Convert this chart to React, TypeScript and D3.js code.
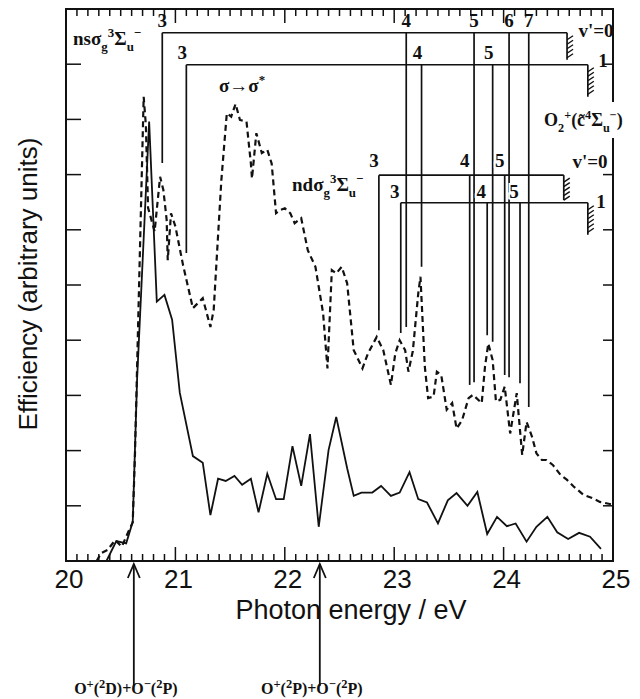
import React, { useEffect, useRef } from "react";
import * as d3 from "d3";

// solid curve: photon energy (eV) / efficiency (arb. units)
const solidE = [20.37, 20.46, 20.55, 20.61, 20.65, 20.76, 20.83, 20.90, 20.97, 21.04, 21.16, 21.25, 21.32, 21.39, 21.46, 21.54, 21.61, 21.69, 21.76, 21.84, 21.92, 21.99, 22.07, 22.15, 22.23, 22.31, 22.40, 22.47, 22.57, 22.63, 22.70, 22.80, 22.88, 22.97, 23.05, 23.14, 23.22, 23.30, 23.40, 23.49, 23.57, 23.67, 23.76, 23.85, 23.94, 24.03, 24.11, 24.21, 24.30, 24.40, 24.49, 24.59, 24.69, 24.79, 24.89];
const solidV = [0.0, 0.36, 0.32, 0.71, 3.3, 7.96, 4.70, 4.82, 4.37, 3.05, 1.90, 1.78, 0.83, 1.49, 1.45, 1.54, 1.38, 1.49, 0.88, 1.58, 1.12, 1.12, 2.08, 1.36, 2.30, 0.62, 2.01, 2.61, 1.68, 1.18, 1.24, 1.24, 1.36, 1.18, 1.24, 1.61, 1.12, 1.06, 0.68, 1.10, 1.23, 1.00, 1.25, 0.49, 0.80, 0.63, 0.68, 0.35, 0.62, 0.80, 0.52, 0.40, 0.51, 0.44, 0.22];

// dashed curve
const dashE = [20.28, 20.32, 20.38, 20.45, 20.51, 20.57, 20.61, 20.63, 20.71, 20.73, 20.75, 20.81, 20.86, 20.89, 20.92, 20.93, 20.96, 21.00, 21.07, 21.16, 21.25, 21.32, 21.35, 21.42, 21.47, 21.51, 21.55, 21.59, 21.65, 21.69, 21.70, 21.74, 21.79, 21.84, 21.88, 21.92, 21.96, 22.00, 22.05, 22.09, 22.15, 22.21, 22.28, 22.35, 22.39, 22.43, 22.47, 22.52, 22.57, 22.63, 22.71, 22.76, 22.84, 22.90, 22.97, 23.01, 23.05, 23.10, 23.13, 23.17, 23.22, 23.24, 23.28, 23.31, 23.36, 23.39, 23.43, 23.48, 23.53, 23.57, 23.62, 23.68, 23.72, 23.80, 23.83, 23.86, 23.90, 23.93, 23.97, 24.01, 24.06, 24.12, 24.17, 24.21, 24.26, 24.30, 24.35, 24.39, 24.45, 24.52, 24.58, 24.64, 24.73, 24.81, 24.88, 25.0];
const dashV = [0.0, 0.14, 0.2, 0.38, 0.26, 0.53, 0.7, 1.9, 8.41, 7.9, 6.4, 5.97, 6.96, 6.72, 6.18, 5.45, 6.3, 6.06, 5.36, 4.58, 4.76, 4.24, 4.55, 6.9, 8.11, 8.05, 8.28, 7.99, 7.96, 7.2, 6.93, 7.75, 7.39, 7.45, 7.2, 6.3, 6.36, 6.39, 6.3, 6.12, 6.21, 5.63, 5.33, 4.49, 3.49, 5.27, 5.21, 5.33, 5.03, 3.82, 3.49, 3.76, 4.06, 3.82, 3.19, 3.76, 4.0, 3.82, 3.43, 3.8, 4.85, 5.15, 3.52, 2.95, 2.98, 3.43, 3.37, 2.74, 2.86, 2.40, 2.55, 2.95, 3.01, 2.86, 3.52, 3.94, 3.64, 2.89, 2.92, 3.16, 2.31, 3.04, 1.92, 2.52, 2.25, 1.95, 1.83, 1.83, 1.74, 1.56, 1.47, 1.35, 1.20, 1.14, 1.07, 1.02];

// Rydberg series: level energies (eV), where each line stops (arb. units), n labels
const nsV0Energy = [20.88, 23.11, 23.73, 24.05, 24.23];
const nsV0Bottom = [7.21, 4.24, 3.24, 3.33, 2.79];
const nsV0Labels = ["3", "4", "5", "6", "7"];
const nsV1Energy = [21.10, 23.25, 23.90];
const nsV1Bottom = [5.58, 5.33, 3.97];
const nsV1Labels = ["3", "4", "5"];
const ndV0Energy = [22.86, 23.69, 24.01];
const ndV0Bottom = [4.18, 3.19, 3.37];
const ndV0Labels = ["3", "4", "5"];
const ndV1Energy = [23.06, 23.85, 24.15];
const ndV1Bottom = [4.13, 4.09, 3.22];
const ndV1Labels = ["3", "4", "5"];

// height of each series bar and its series limit
const seriesHeight = [9.57, 8.99, 6.99, 6.49];
const seriesLimit = [24.58, 24.77, 24.55, 24.77];

// dissociation thresholds
const thresholdE = [20.62, 22.32];
const thresholdLabels = [
    [["O", "n"], ["+", "sup"], ["(", "n"], ["2", "sup"], ["D)+O", "n"], ["\u2212", "sup"], ["(", "n"], ["2", "sup"], ["P)", "n"]],
    [["O", "n"], ["+", "sup"], ["(", "n"], ["2", "sup"], ["P)+O", "n"], ["\u2212", "sup"], ["(", "n"], ["2", "sup"], ["P)", "n"]],
];

const SERIF = "'Liberation Serif', 'Times New Roman', serif";
const SANS = "'Liberation Sans', Arial, Helvetica, sans-serif";

// text with sub/superscripts
function richText(g, x, y, segs, size, anchor = "start", ratio = 0.68) {
    const t = g.append("text")
        .attr("x", x).attr("y", y)
        .attr("text-anchor", anchor)
        .attr("font-family", SERIF)
        .attr("font-weight", "bold")
        .attr("font-size", size)
        .attr("fill", "#111");
    let shift = 0;
    segs.forEach(([s, k]) => {
        const target = k === "sub" ? size * 0.32 : k === "sup" ? -size * 0.4 : 0;
        t.append("tspan")
            .attr("dy", target - shift)
            .attr("font-size", k === "n" ? size : size * ratio)
            .text(s);
        shift = target;
    });
    return t;
}

export default function App() {
    const ref = useRef(null);

    useEffect(() => {
        const svg = d3.select(ref.current);
        svg.selectAll("*").remove();

        const left = 66, right = 613, top = 9, bottom = 561;
        const x = d3.scaleLinear().domain([20, 25]).range([left, right]);
        const y = d3.scaleLinear().domain([0, 10]).range([bottom, top]);

        // curves
        const line = d3.line().x(d => x(d[0])).y(d => y(d[1]));
        svg.append("path")
            .datum(dashE.map((e, i) => [e, dashV[i]]))
            .attr("d", line)
            .attr("fill", "none")
            .attr("stroke", "#111")
            .attr("stroke-width", 2.2)
            .attr("stroke-dasharray", "6,4");
        svg.append("path")
            .datum(solidE.map((e, i) => [e, solidV[i]]))
            .attr("d", line)
            .attr("fill", "none")
            .attr("stroke", "#111")
            .attr("stroke-width", 1.8);

        // Rydberg series bars
        const series = [
            {e: nsV0Energy, b: nsV0Bottom, l: nsV0Labels, dx: 0, ly: -6, hatch: 27},
            {e: nsV1Energy, b: nsV1Bottom, l: nsV1Labels, dx: -4, ly: -6, hatch: 32},
            {e: ndV0Energy, b: ndV0Bottom, l: ndV0Labels, dx: -5, ly: -8, hatch: 25},
            {e: ndV1Energy, b: ndV1Bottom, l: ndV1Labels, dx: -6, ly: -5, hatch: 32},
        ];
        series.forEach((s, k) => {
            const g = svg.append("g").attr("stroke", "#111").attr("stroke-width", 1.7).attr("fill", "none");
            const h = y(seriesHeight[k]);
            const xEnd = x(seriesLimit[k]);
            g.append("line").attr("x1", x(s.e[0])).attr("x2", xEnd).attr("y1", h).attr("y2", h);
            s.e.forEach((e, i) => {
                g.append("line").attr("x1", x(e)).attr("x2", x(e)).attr("y1", h).attr("y2", y(s.b[i]));
            });
            // series limit with hatching
            g.append("line").attr("x1", xEnd).attr("x2", xEnd).attr("y1", h).attr("y2", h + s.hatch);
            for (let yy = h + 7; yy <= h + s.hatch; yy += 4.5) {
                g.append("line").attr("x1", xEnd).attr("x2", xEnd + 6).attr("y1", yy).attr("y2", yy - 4)
                    .attr("stroke-width", 1.4);
            }
            s.e.forEach((e, i) => {
                svg.append("text")
                    .attr("x", x(e) + s.dx).attr("y", h + s.ly)
                    .attr("text-anchor", "middle")
                    .attr("font-family", SERIF).attr("font-weight", "bold").attr("font-size", 19)
                    .attr("stroke", "#fff").attr("stroke-width", 4).attr("paint-order", "stroke")
                    .attr("fill", "#111")
                    .text(s.l[i]);
            });
        });

        // frame
        svg.append("rect")
            .attr("x", left).attr("y", top)
            .attr("width", right - left).attr("height", bottom - top)
            .attr("fill", "none").attr("stroke", "#111").attr("stroke-width", 2);

        // ticks on all four sides
        const ticks = svg.append("g").attr("stroke", "#111").attr("stroke-width", 1.5);
        d3.range(0, 51).forEach(i => {
            const e = 20 + i / 10;
            const len = i % 10 === 0 ? 14 : 7;
            ticks.append("line").attr("x1", x(e)).attr("x2", x(e)).attr("y1", bottom).attr("y2", bottom - len);
            ticks.append("line").attr("x1", x(e)).attr("x2", x(e)).attr("y1", top).attr("y2", top + len);
        });
        d3.range(1, 10).forEach(v => {
            ticks.append("line").attr("x1", left).attr("x2", left + 15).attr("y1", y(v)).attr("y2", y(v));
            ticks.append("line").attr("x1", right).attr("x2", right - 10).attr("y1", y(v)).attr("y2", y(v));
        });

        // x tick labels
        d3.range(20, 26).forEach(e => {
            svg.append("text")
                .attr("x", x(e) + 3).attr("y", 588)
                .attr("text-anchor", "middle")
                .attr("font-family", SANS).attr("font-size", 26)
                .attr("fill", "#111")
                .text(e);
        });

        // series labels
        richText(svg, 73, 45, [["ns\u03c3", "n"], ["g", "sub"], ["3", "sup"], ["\u03a3", "n"], ["u", "sub"], ["\u2212", "sup"]], 19);
        richText(svg, 292, 191, [["nd\u03c3", "n"], ["g", "sub"], ["3", "sup"], ["\u03a3", "n"], ["u", "sub"], ["\u2212", "sup"]], 19);
        richText(svg, 219, 92, [["\u03c3\u2192\u03c3", "n"], ["*", "sup"]], 19);
        richText(svg, 596, 37, [["v'=0", "n"]], 19, "middle");
        richText(svg, 603, 67, [["1", "n"]], 19, "middle");
        richText(svg, 590, 168, [["v'=0", "n"]], 19, "middle");
        richText(svg, 601, 208, [["1", "n"]], 19, "middle");

        // O2+ label breaks the right frame
        svg.append("rect").attr("x", 541).attr("y", 102).attr("width", 90).attr("height", 36).attr("fill", "#fff");
        richText(svg, 544, 126, [["O", "n"], ["2", "sub"], ["+", "sup"], ["(c\u0303", "n"], ["4", "sup"], ["\u03a3", "n"], ["u", "sub"], ["\u2212", "sup"], [")", "n"]], 18);

        // axis titles
        svg.append("text")
            .attr("transform", "translate(37, 284) rotate(-90)")
            .attr("text-anchor", "middle")
            .attr("font-family", SANS).attr("font-size", 26)
            .attr("fill", "#111")
            .text("Efficiency (arbitrary units)");
        svg.append("text")
            .attr("x", 351).attr("y", 619)
            .attr("text-anchor", "middle")
            .attr("font-family", SANS).attr("font-size", 27)
            .attr("fill", "#111")
            .text("Photon energy / eV");

        // threshold arrows
        thresholdE.forEach((e, i) => {
            const ax = x(e);
            const g = svg.append("g").attr("stroke", "#111").attr("stroke-width", 1.8).attr("fill", "none");
            g.append("line").attr("x1", ax).attr("x2", ax).attr("y1", 686).attr("y2", 564);
            g.append("path").attr("d", `M${ax - 6},${578} L${ax},${564} L${ax + 6},${578}`);
            richText(svg, ax - 8, 694, thresholdLabels[i], 16, "middle", 0.78);
        });
    }, []);

    return (
        <svg ref={ref} width={640} height={699}
             style={{position: "absolute", left: 0, top: 0, background: "#fff"}}/>
    );
}
